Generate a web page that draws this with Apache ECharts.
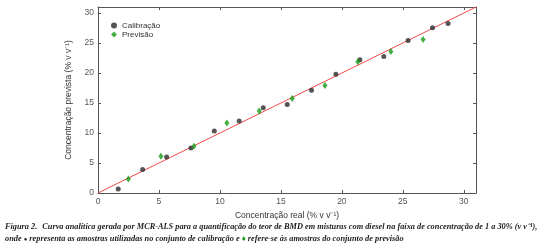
<!DOCTYPE html>
<html>
<head>
<meta charset="utf-8">
<script src="https://cdn.jsdelivr.net/npm/echarts@6/dist/echarts.min.js"></script>
<style>
  html, body { margin: 0; padding: 0; background: #fff; }
  #chart { width: 550px; height: 246px; }
</style>
</head>
<body>
<div id="chart"></div>
<script>
  // calibração (real, prevista)
  var calReal = [1.66, 3.66, 5.63, 7.62, 9.54, 11.58, 13.55, 15.52, 17.51, 19.51, 21.48, 23.44, 25.43, 27.43, 28.71];
  var calPrev = [0.66, 3.93, 6.02, 7.51, 10.33, 11.99, 14.21, 14.76, 17.13, 19.78, 22.22, 22.77, 25.42, 27.53, 28.24];
  // previsão (real, prevista)
  var prevReal = [2.49, 5.16, 7.87, 10.57, 13.22, 15.93, 18.61, 21.31, 24.02, 26.66];
  var prevPrev = [2.32, 6.14, 7.79, 11.66, 13.65, 15.75, 17.91, 21.89, 23.6, 25.59];
  // reta ideal
  var lineX = [0, 31];
  var lineY = [0, 31];

  var chart = echarts.init(document.getElementById('chart'));
  var axisGray = '#555';

  function zip(a, b) { return a.map(function (v, i) { return [v, b[i]]; }); }

  var baseAxis = {
    type: 'value', min: 0, max: 31, interval: 5,
    axisLine: { show: true, onZero: false, lineStyle: { color: axisGray, width: 1 } },
    axisTick: { show: true, inside: true, length: 3, lineStyle: { color: axisGray } },
    splitLine: { show: false }
  };
  var labelStyle = { fontFamily: 'Liberation Sans', fontSize: 8.5, color: axisGray, margin: 4, showMaxLabel: false };

  chart.setOption({
    animation: false,
    grid: { left: 98, right: 74, top: 7, bottom: 53 },
    title: {
      left: 5, top: 221, padding: 0,
      text: '{b|Figura 2.} {t|Curva analítica gerada por MCR-ALS para a quantificação do teor de BMD em misturas com diesel na faixa de concentração de 1 a 30% (v v⁻¹),}\n{t|onde }{dot|●}{t| representa as amostras utilizadas no conjunto de calibração e }{dia|♦}{t| refere-se às amostras do conjunto de previsão}',
      textStyle: {
        lineHeight: 12,
        rich: {
          b: { fontFamily: 'Liberation Serif', fontStyle: 'italic', fontWeight: 'bold', fontSize: 8.3, color: '#222', lineHeight: 12 },
          t: { fontFamily: 'Liberation Serif', fontStyle: 'italic', fontSize: 8.3, color: '#222', lineHeight: 12 },
          dot: { fontSize: 6, color: '#222', lineHeight: 12 },
          dia: { fontSize: 8, color: '#1a9a1a', lineHeight: 12 }
        }
      }
    },
    legend: {
      orient: 'vertical', left: 106, top: 16, itemGap: 0,
      itemWidth: 6, itemHeight: 6,
      textStyle: { fontFamily: 'Liberation Sans', fontSize: 8, lineHeight: 9, color: '#333' },
      data: [
        { name: 'Calibração', icon: 'circle' },
        { name: 'Previsão', icon: 'diamond' }
      ]
    },
    xAxis: [
      Object.assign({}, baseAxis, {
        position: 'bottom',
        name: 'Concentração real (% v v⁻¹)', nameLocation: 'middle', nameGap: 15,
        nameTextStyle: { fontFamily: 'Liberation Sans', fontSize: 8.5, color: '#333' },
        axisLabel: labelStyle
      }),
      Object.assign({}, baseAxis, { position: 'top', axisLabel: { show: false } })
    ],
    yAxis: [
      Object.assign({}, baseAxis, {
        position: 'left',
        name: 'Concentração prevista (% v v⁻¹)', nameLocation: 'middle', nameGap: 17,
        nameTextStyle: { fontFamily: 'Liberation Sans', fontSize: 8.5, color: '#333' },
        axisLabel: labelStyle
      }),
      Object.assign({}, baseAxis, { position: 'right', axisLabel: { show: false } })
    ],
    series: [
      {
        name: 'reta', type: 'line', data: zip(lineX, lineY), showSymbol: false,
        lineStyle: { color: '#f24a4a', width: 1 }, silent: true, z: 1
      },
      {
        name: 'Calibração', type: 'scatter', data: zip(calReal, calPrev),
        symbol: 'circle', symbolSize: 5, itemStyle: { color: '#2a2a2a' }, z: 3
      },
      {
        name: 'Previsão', type: 'scatter', data: zip(prevReal, prevPrev),
        symbol: 'diamond', symbolSize: [5, 7], itemStyle: { color: '#149a14' }, z: 4
      }
    ]
  });
</script>
</body>
</html>
